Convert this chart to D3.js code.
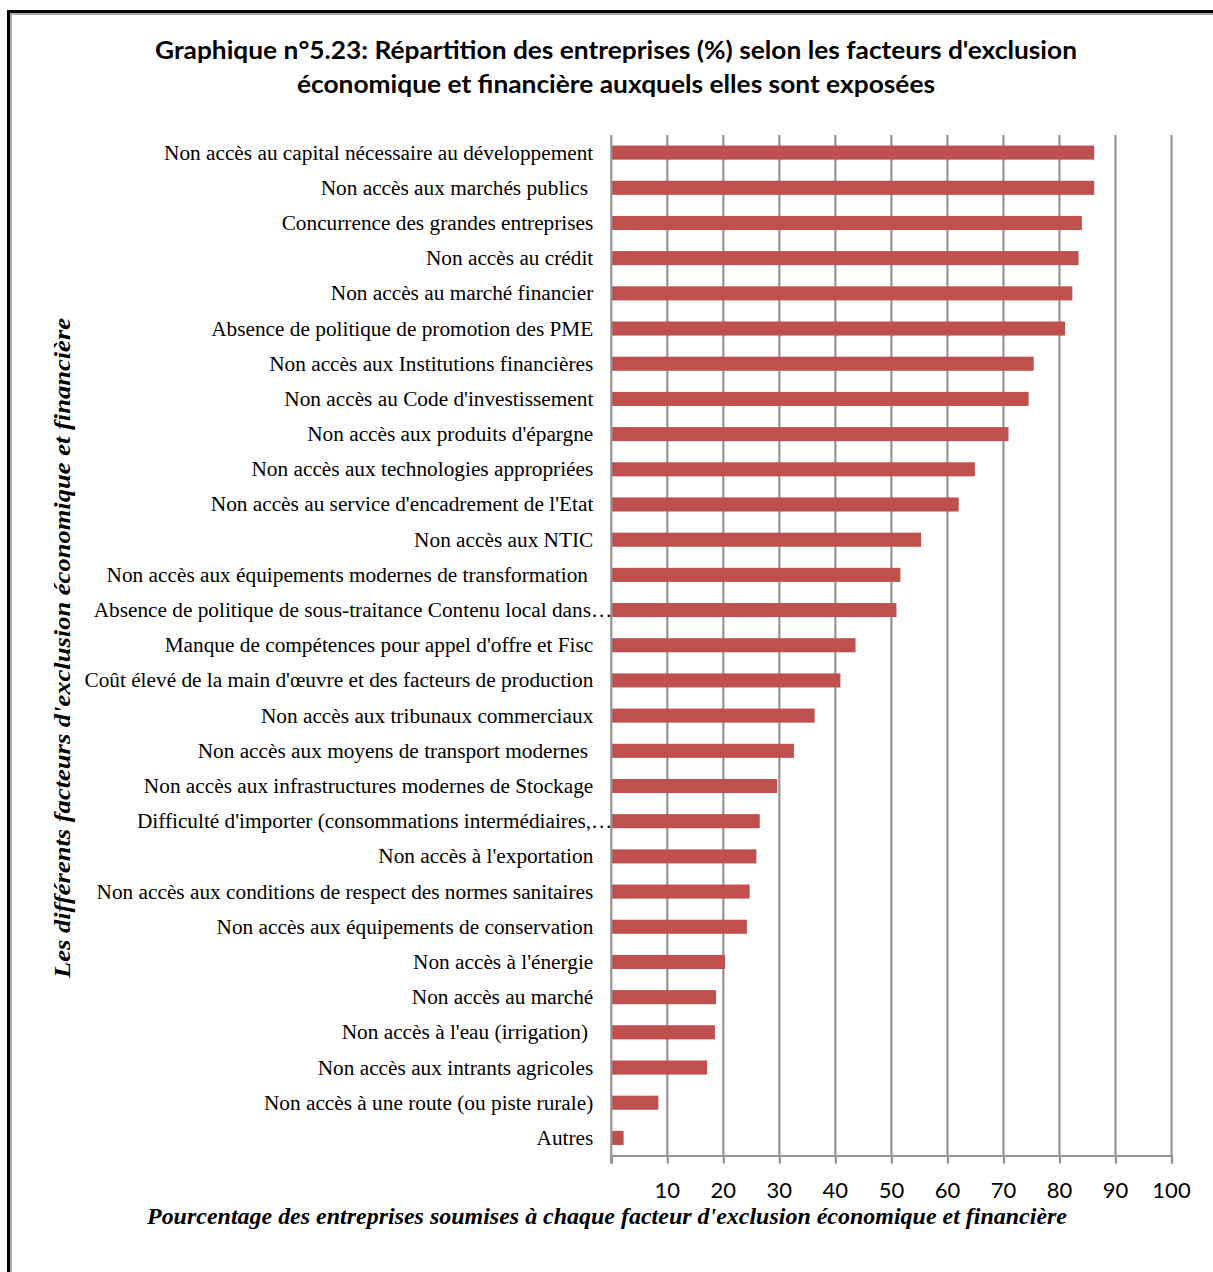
<!DOCTYPE html>
<html><head><meta charset="utf-8">
<script src="https://cdn.jsdelivr.net/npm/d3@7"></script>
<style>body{margin:0;background:#fff}svg{display:block}</style>
</head><body>
<script>
const titleLines = ["Graphique n°5.23: Répartition des entreprises (%) selon les facteurs d'exclusion",
                    "économique et financière auxquels elles sont exposées"];
const xTitle = "Pourcentage des entreprises soumises à chaque facteur d'exclusion économique et financière";
const yTitle = "Les différents facteurs d'exclusion économique et financière";
const categories = [
 "Non accès au capital nécessaire au développement",
 "Non accès aux marchés publics ",
 "Concurrence des grandes entreprises",
 "Non accès au crédit",
 "Non accès au marché financier",
 "Absence de politique de promotion des PME",
 "Non accès aux Institutions financières",
 "Non accès au Code d'investissement",
 "Non accès aux produits d'épargne",
 "Non accès aux technologies appropriées",
 "Non accès au service d'encadrement de l'Etat",
 "Non accès aux NTIC",
 "Non accès aux équipements modernes de transformation ",
 "Absence de politique de sous-traitance Contenu local dans…",
 "Manque de compétences pour appel d'offre et Fisc",
 "Coût élevé de la main d'œuvre et des facteurs de production",
 "Non accès aux tribunaux commerciaux",
 "Non accès aux moyens de transport modernes ",
 "Non accès aux infrastructures modernes de Stockage",
 "Difficulté d'importer (consommations intermédiaires,…",
 "Non accès à l'exportation",
 "Non accès aux conditions de respect des normes sanitaires",
 "Non accès aux équipements de conservation",
 "Non accès à l'énergie",
 "Non accès au marché",
 "Non accès à l'eau (irrigation) ",
 "Non accès aux intrants agricoles",
 "Non accès à une route (ou piste rurale)",
 "Autres"
];
const values = [86.2, 86.2, 84.0, 83.4, 82.3, 81.0, 75.4, 74.5, 70.9, 64.9,
                62.0, 55.3, 51.6, 50.9, 43.6, 40.9, 36.3, 32.6, 29.6, 26.5,
                25.9, 24.7, 24.2, 20.3, 18.7, 18.5, 17.1, 8.4, 2.2];
const xTicks = [10,20,30,40,50,60,70,80,90,100];

const W = 1213, H = 1272;
const svg = d3.select("body").append("svg").attr("width", W).attr("height", H);

// frame
svg.append("line").attr("x1",9).attr("x2",W).attr("y1",11.5).attr("y2",11.5).attr("stroke","#000").attr("stroke-width",3);
svg.append("line").attr("x1",12).attr("x2",W).attr("y1",14).attr("y2",14).attr("stroke","#aaa").attr("stroke-width",2);
svg.append("line").attr("x1",8.5).attr("x2",8.5).attr("y1",10).attr("y2",H).attr("stroke","#000").attr("stroke-width",3);
svg.append("line").attr("x1",11).attr("x2",11).attr("y1",13).attr("y2",H).attr("stroke","#aaa").attr("stroke-width",2);

// title
svg.append("g").selectAll("text").data(titleLines).join("text")
  .attr("x", 616).attr("y", (d,i)=> 59 + i*34)
  .attr("text-anchor","middle")
  .attr("font-family","Lato, 'Open Sans', sans-serif").attr("font-weight","bold").attr("font-size",24)
  .attr("textLength", (d,i)=> i===0 ? 922 : 638).attr("lengthAdjust","spacingAndGlyphs")
  .text(d=>d);

const pLeft = 611.3, pRight = 1171.5, pTop = 135, pBottom = 1155.5;
const x = d3.scaleLinear().domain([0,100]).range([pLeft,pRight]);
const y = d3.scaleBand().domain(categories).range([pTop,pBottom]).paddingInner(0.6).paddingOuter(0.3);

// gridlines
svg.append("g").selectAll("line").data(xTicks).join("line")
  .attr("x1", d=>x(d)).attr("x2", d=>x(d)).attr("y1", pTop).attr("y2", pBottom)
  .attr("stroke","#949494").attr("stroke-width",2.2);

// bars
svg.append("g").selectAll("rect").data(values).join("rect")
  .attr("x", x(0)).attr("y", (d,i)=>y(categories[i]))
  .attr("width", d=>x(d)-x(0)).attr("height", y.bandwidth())
  .attr("fill","#c0504d");

// x axis
const xAxis = svg.append("g").attr("transform",`translate(0,${pBottom})`)
  .call(d3.axisBottom(x).tickValues([0].concat(xTicks)).tickSize(8).tickFormat(""));
xAxis.select(".domain").attr("stroke","#949494").attr("stroke-width",2.2);
xAxis.selectAll(".tick line").attr("stroke","#949494").attr("stroke-width",2.2);
svg.append("g").selectAll("text").data(xTicks).join("text")
  .attr("x", d=>x(d)).attr("y", 1198).attr("text-anchor","middle")
  .attr("font-family","Lato, 'Open Sans', sans-serif").attr("font-size",22)
  .text(d=>d);

// y axis line
svg.append("line").attr("x1",pLeft).attr("x2",pLeft).attr("y1",pTop).attr("y2",pBottom+8)
  .attr("stroke","#949494").attr("stroke-width",2.2);

// category labels
svg.append("g").selectAll("text").data(categories).join("text")
  .attr("x", d=> d.endsWith("…") ? pLeft + 1 : pLeft - 18)
  .attr("y", d=> y(d) + y.bandwidth()/2 + 7)
  .attr("text-anchor","end")
  .attr("font-family","'Liberation Serif', 'Times New Roman', serif").attr("font-size",21.3)
  .style("white-space","pre")
  .text(d=>d);

// axis titles
svg.append("text").attr("x", 607).attr("y", 1224).attr("text-anchor","middle")
  .attr("font-family","'Liberation Serif', 'Times New Roman', serif").attr("font-size",23)
  .attr("textLength",920).attr("lengthAdjust","spacingAndGlyphs")
  .attr("font-style","italic").attr("font-weight","bold").text(xTitle);
svg.append("text").attr("transform","translate(70,648) rotate(-90)").attr("text-anchor","middle")
  .attr("font-family","'Liberation Serif', 'Times New Roman', serif").attr("font-size",24)
  .attr("textLength",660).attr("lengthAdjust","spacingAndGlyphs")
  .attr("font-style","italic").attr("font-weight","bold").text(yTitle);
</script>
</body></html>
